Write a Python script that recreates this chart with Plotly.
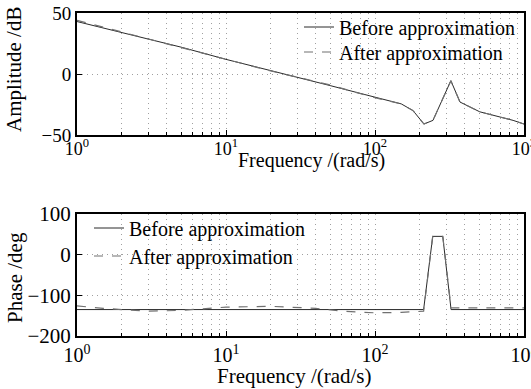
import plotly.graph_objects as go

# ---- data ----
amp_freq = [1, 2, 5, 10, 20, 50, 100, 150, 180, 213, 245, 323, 372, 505, 845, 1000]
amp_before = [43, 34, 22, 12, 3, -9.5, -19, -24.5, -30, -41, -38, -5.5, -23, -31, -38, -41]
amp_after = [44, 34.5, 21.5, 12.5, 2.5, -9, -19.5, -24.5, -30, -41, -38, -5.5, -23, -31, -38, -41]

ph_freq_before = [1, 212, 244, 285, 324, 1000]
ph_before = [-135, -135, 45, 45, -135, -135]

ph_freq_after = [1, 1.5, 3, 5, 10, 20, 40, 60, 100, 150, 212, 244, 285, 324, 1000]
ph_after = [-126, -132, -139, -137, -129, -127, -132, -139, -143, -142, -139, 45, 45, -131, -131]

x_tickvals = [1, 10, 100, 1000]
x_ticktext = ["10<sup>0</sup>", "10<sup>1</sup>", "10<sup>2</sup>", "10<sup>3</sup>"]
amp_ticks = [-50, 0, 50]
ph_ticks = [-200, -100, 0, 100]

FONT = "Liberation Serif, Times New Roman, serif"
DARK = "#2a2a2a"
GRAY = "#707070"
GRID = "#a0a0a0"
DOT = "1px,4px"
CLEAR = "rgba(255,255,255,0)"

W, H = 531, 389

fig = go.Figure()
fig.add_trace(go.Scatter(x=amp_freq, y=amp_before, mode="lines", name="Before approximation",
                         line=dict(color=DARK, width=1), xaxis="x", yaxis="y",
                         legend="legend2", showlegend=True))
fig.add_trace(go.Scatter(x=amp_freq, y=amp_after, mode="lines", name="After approximation",
                         line=dict(color=GRAY, width=1.2, dash="dash"), xaxis="x", yaxis="y",
                         legend="legend3", showlegend=True))
fig.add_trace(go.Scatter(x=ph_freq_before, y=ph_before, mode="lines", name="Before approximation",
                         line=dict(color=DARK, width=1), xaxis="x2", yaxis="y2",
                         legend="legend4", showlegend=True))
fig.add_trace(go.Scatter(x=ph_freq_after, y=ph_after, mode="lines", name="After approximation",
                         line=dict(color=GRAY, width=1.2, dash="dash"), xaxis="x2", yaxis="y2",
                         legend="legend5", showlegend=True))

xdom = [77 / W, 524 / W]

def xax(dom_anchor, fs, standoff):
    return dict(type="log", range=[0, 3], domain=xdom, anchor=dom_anchor,
                tickvals=x_tickvals, ticktext=x_ticktext, ticklabeloverflow="allow",
                ticklabelstandoff=standoff,
                showline=True, linecolor="black", linewidth=2, mirror=True,
                ticks="inside", ticklen=5, tickcolor="black",
                showgrid=True, gridcolor=GRID, griddash=DOT, gridwidth=1,
                minor=dict(dtick="D1", showgrid=True, gridcolor=GRID, griddash=DOT,
                           ticks="inside", ticklen=3, tickcolor="black"),
                zeroline=False, tickfont=dict(family=FONT, size=fs, color="black"))

def yax(dom, rng, ticks, anchor, fs):
    return dict(range=rng, domain=dom, anchor=anchor, tickvals=ticks,
                showline=True, linecolor="black", linewidth=2, mirror=True,
                ticks="inside", ticklen=5, tickcolor="black",
                showgrid=True, gridcolor=GRID, griddash=DOT, gridwidth=1,
                zeroline=False, tickfont=dict(family=FONT, size=fs, color="black"))

def ann(text, x, y, size, angle=0):
    return dict(text=text, x=x / W, y=1 - y / H, xref="paper", yref="paper",
                xanchor="center", yanchor="middle", showarrow=False, textangle=angle,
                font=dict(family=FONT, size=size, color="black"))

def leg(x, y):
    return dict(x=x / W, y=1 - y / H, xanchor="left", yanchor="middle",
                bgcolor=CLEAR, font=dict(family=FONT, size=20, color="black"),
                tracegroupgap=0, borderwidth=0, visible=True)

fig.update_layout(
    width=W, height=H,
    showlegend=True,
    margin=dict(l=0, r=0, t=0, b=0, autoexpand=False),
    paper_bgcolor="white", plot_bgcolor="white",
    font=dict(family=FONT, color="black"),
    xaxis=xax("y", 18, -4),
    yaxis=yax([1 - 135 / H, 1 - 13 / H], [-50, 50], amp_ticks, "x", 19),
    xaxis2=xax("y2", 20, 0),
    yaxis2=yax([1 - 336 / H, 1 - 214 / H], [-200, 100], ph_ticks, "x2", 21),
    legend=dict(visible=False),
    legend2=leg(299, 27),
    legend3=leg(299, 52),
    legend4=leg(89, 228),
    legend5=leg(89, 256),
    annotations=[
        ann("Frequency /(rad/s)", 311, 160, 20),
        ann("Frequency /(rad/s)", 294, 376, 21),
        ann("Amplitude /dB", 14, 70, 21, -90),
        ann("Phase /deg", 15, 278, 21, -90),
    ],
)

fig.write_html("out.html")
